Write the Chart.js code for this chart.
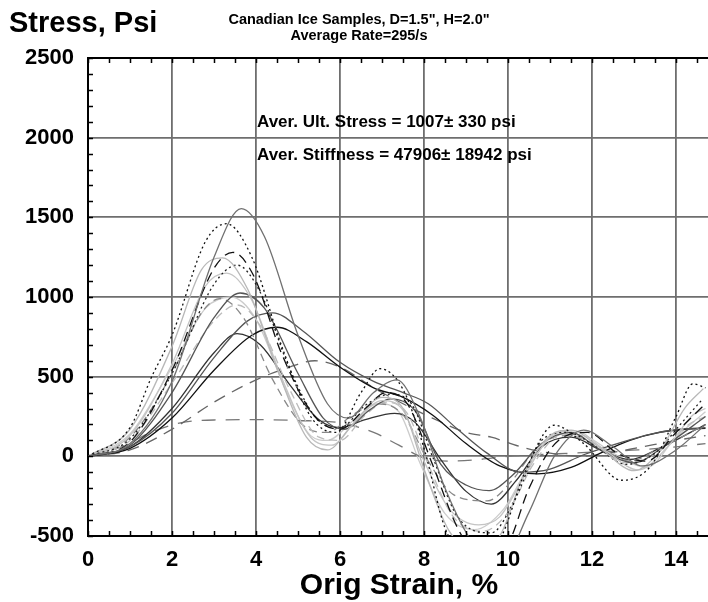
<!DOCTYPE html>
<html>
<head>
<meta charset="utf-8">
<script src="https://cdn.jsdelivr.net/npm/chart.js@4/dist/chart.umd.min.js"></script>
<style>
  html, body { margin: 0; padding: 0; background: #fff; }
  #wrap { width: 708px; height: 602px; }
</style>
</head>
<body>
<div id="wrap"><canvas id="stressChart" width="708" height="602"></canvas></div>
<script>
// axis ticks
const strainTicks = [0, 2, 4, 6, 8, 10, 12, 14];
const stressTicks = [-500, 0, 500, 1000, 1500, 2000, 2500];

// samples: [strain %, stress psi]
const sample01 = [[0,0],[1,80],[2,470],[3,1250],[3.65,1555],[4.2,1380],[5,760],[5.7,330],[6.2,240],[6.8,400],[7.35,480],[7.9,250],[8.5,-200],[9.2,-560],[9.8,-680],[10.5,-350],[11.1,0],[11.8,165],[12.5,60],[13.2,-60],[14,40],[14.7,200]];
const sample02 = [[0,0],[1,180],[1.5,490],[2,760],[2.8,1350],[3.3,1460],[3.9,1250],[4.6,700],[5.3,250],[5.9,150],[6.5,400],[6.95,550],[7.5,420],[8,50],[8.5,-450],[9,-620],[9.8,-520],[10.4,-100],[11.1,195],[11.8,80],[12.7,-150],[13.4,-60],[14,250],[14.4,455],[14.7,430]];
const sample03 = [[0,0],[1,90],[2,540],[3,1180],[3.45,1280],[3.95,1130],[4.6,650],[5.4,250],[6,170],[6.6,300],[7.1,400],[7.6,330],[8.2,-50],[8.8,-450],[9.4,-650],[10,-550],[10.5,-200],[11.2,100],[11.9,150],[12.6,20],[13.3,-30],[14,150],[14.7,330]];
const sample04 = [[0,0],[1,170],[2,690],[2.7,1170],[3.2,1245],[3.8,1050],[4.5,550],[5.2,120],[5.7,40],[6.3,200],[7,370],[7.5,300],[8,-80],[8.6,-470],[9.2,-580],[9.8,-500],[10.4,-100],[11,130],[11.5,165],[12.2,50],[13,-90],[13.6,30],[14.2,300],[14.65,425]];
const sample05 = [[0,0],[1,110],[2,520],[3,1080],[3.55,1200],[4.1,1030],[4.8,550],[5.5,220],[6,180],[6.6,320],[7.2,390],[7.7,330],[8.2,0],[8.8,-380],[9.6,-480],[10.2,-250],[10.8,100],[11.4,150],[12.1,60],[12.8,-50],[13.5,20],[14.1,200],[14.6,350]];
const sample06 = [[0,0],[1,130],[2,580],[2.8,1070],[3.3,1150],[3.9,980],[4.6,500],[5.3,120],[5.8,70],[6.4,230],[7,350],[7.5,290],[8,-30],[8.6,-330],[9.3,-430],[9.8,-380],[10.4,-120],[11,120],[11.6,160],[12.3,40],[13.1,-85],[13.8,60],[14.4,260],[14.7,300]];
const sample07 = [[0,0],[1,70],[2,400],[3,870],[3.62,1025],[4.2,930],[5,520],[5.6,240],[6.1,170],[6.7,290],[7.2,360],[7.8,280],[8.4,-50],[9,-180],[9.55,-215],[10.1,-120],[10.8,80],[11.5,150],[12.2,40],[13,-40],[13.7,60],[14.7,250]];
const sample08 = [[0,0],[1,100],[2,460],[3,850],[3.55,950],[4.1,820],[4.8,420],[5.5,120],[6,100],[6.6,260],[7.1,340],[7.6,270],[8.1,-50],[8.7,-380],[9.4,-470],[10,-350],[10.6,-50],[11.3,140],[12,90],[12.8,-40],[13.6,30],[14.3,200],[14.7,250]];
const sample09 = [[0,0],[1,120],[2,520],[2.7,900],[3.14,990],[3.7,870],[4.4,480],[5.1,200],[5.7,150],[6.3,260],[6.9,330],[7.5,260],[8.1,-30],[8.7,-240],[9.5,-280],[10.1,-150],[10.7,60],[11.4,130],[12.1,70],[12.9,-30],[13.6,50],[14.7,200]];
const sample10 = [[0,0],[1,60],[2,270],[3,620],[3.8,850],[4.4,900],[5.1,790],[6,590],[6.8,470],[7.5,400],[8.1,330],[8.8,170],[9.5,20],[10.3,-100],[11,-80],[11.8,10],[12.6,80],[13.4,140],[14.1,170],[14.7,180]];
const sample11 = [[0,0],[1,50],[2,240],[3,540],[3.9,760],[4.5,810],[5.2,720],[6,560],[6.8,430],[7.5,370],[8.2,260],[9,80],[9.8,-60],[10.7,-110],[11.5,-70],[12.2,20],[12.9,100],[13.6,150],[14.2,170],[14.7,176]];
const sample12 = [[0,0],[1,60],[2,300],[3,650],[3.55,770],[4.1,700],[4.8,450],[5.5,230],[6,180],[6.6,230],[7.3,270],[7.8,210],[8.4,-20],[9,-220],[9.6,-300],[10.2,-150],[10.8,60],[11.5,120],[12.2,40],[12.9,-20],[13.6,50],[14.7,200]];
const sample13 = [[0,0],[1,40],[2,170],[3,340],[4,480],[4.8,560],[5.4,600],[6,560],[6.8,430],[7.5,330],[8.2,240],[9,150],[9.6,120],[10.3,60],[11,20],[11.7,0],[12.4,20],[13.2,60],[14,100],[14.7,130]];
const sample14 = [[0,0],[0.8,60],[1.5,150],[2.2,210],[3,228],[4,230],[5,225],[6,210],[6.8,150],[7.4,70],[8,-10],[8.6,-30],[9.3,-20],[10,0],[10.7,10],[11.5,20],[12.3,30],[13.1,40],[14,60],[14.7,80]];
const sample15 = [[0,0],[1,140],[2,560],[2.8,930],[3.4,1000],[4,860],[4.7,420],[5.3,130],[5.7,100],[6.3,220],[6.9,330],[7.4,280],[7.9,-40],[8.5,-360],[9.2,-460],[9.9,-330],[10.5,-60],[11.2,140],[11.8,130],[12.5,20],[13.3,-70],[14,120],[14.7,280]];

const samples = [sample01, sample02, sample03, sample04, sample05, sample06, sample07, sample08,
                 sample09, sample10, sample11, sample12, sample13, sample14, sample15];
const lineStyles = [
    { color: '#707070', dash: [] },
    { color: '#111111', dash: [2, 3] },
    { color: '#111111', dash: [10, 6] },
    { color: '#b8b8b8', dash: [] },
    { color: '#222222', dash: [2, 3] },
    { color: '#c4c4c4', dash: [] },
    { color: '#555555', dash: [] },
    { color: '#bbbbbb', dash: [8, 5] },
    { color: '#888888', dash: [8, 5] },
    { color: '#555555', dash: [] },
    { color: '#111111', dash: [] },
    { color: '#333333', dash: [] },
    { color: '#666666', dash: [12, 8] },
    { color: '#777777', dash: [14, 10] },
    { color: '#cccccc', dash: [] }
];

const FONT = '"Liberation Sans", Arial, sans-serif';

// header text, annotations, inner minor ticks, top frame
const decorPlugin = {
    id: 'decor',
    afterDraw(chart) {
        const ctx = chart.ctx;
        const xs = chart.scales.x, ys = chart.scales.y;
        const area = chart.chartArea;
        ctx.save();
        ctx.strokeStyle = '#000';
        ctx.lineWidth = 1.5;
        ctx.beginPath();
        for (let v = -500; v <= 2500; v += 100) {
            const py = Math.round(ys.getPixelForValue(v)) + 0.5;
            ctx.moveTo(area.left, py);
            ctx.lineTo(area.left + 5, py);
        }
        for (let v = 0; v <= 14.5; v += 0.5) {
            const px = Math.round(xs.getPixelForValue(v)) + 0.5;
            ctx.moveTo(px, area.top);
            ctx.lineTo(px, area.top + 5);
            ctx.moveTo(px, area.bottom);
            ctx.lineTo(px, area.bottom - 5);
        }
        ctx.stroke();
        ctx.lineWidth = 2;
        ctx.beginPath();
        ctx.moveTo(area.left - 1, area.top);
        ctx.lineTo(area.right, area.top);
        ctx.stroke();

        ctx.fillStyle = '#000';
        ctx.textBaseline = 'alphabetic';
        ctx.textAlign = 'left';
        ctx.font = 'bold 29px ' + FONT;
        ctx.fillText('Stress, Psi', 9, 32);

        ctx.textAlign = 'center';
        ctx.font = 'bold 14.5px ' + FONT;
        ctx.fillText('Canadian Ice Samples, D=1.5", H=2.0"', 359, 24);
        ctx.fillText('Average Rate=295/s', 359, 40);

        ctx.font = 'bold 30px ' + FONT;
        ctx.fillText('Orig Strain, %', 399, 594);

        ctx.textAlign = 'left';
        ctx.font = 'bold 17px ' + FONT;
        ctx.fillText('Aver. Ult. Stress = 1007\u00b1 330 psi', 257, 127);
        ctx.fillText('Aver. Stiffness = 47906\u00b1 18942 psi', 257, 160);
        ctx.restore();
    }
};

new Chart(document.getElementById('stressChart').getContext('2d'), {
    type: 'line',
    data: {
        datasets: samples.map(function (s, i) {
            return {
                data: s.map(function (p) { return { x: p[0], y: p[1] }; }),
                borderColor: lineStyles[i].color,
                borderDash: lineStyles[i].dash,
                borderWidth: 1.3,
                pointRadius: 0,
                fill: false,
                cubicInterpolationMode: 'monotone'
            };
        })
    },
    options: {
        responsive: false,
        animation: false,
        layout: { padding: { top: 58, left: 0, right: 0, bottom: 0 } },
        plugins: { legend: { display: false }, tooltip: { enabled: false } },
        scales: {
            x: {
                type: 'linear',
                min: 0,
                max: 14.76,
                afterFit: function (s) { s.height = 66; },
                afterBuildTicks: function (s) { s.ticks = strainTicks.map(function (v) { return { value: v }; }); },
                grid: { color: '#6e6e6e', lineWidth: 1.8, drawTicks: false },
                border: { display: true, color: '#000', width: 2 },
                ticks: {
                    color: '#000', padding: 11, maxRotation: 0,
                    font: { family: FONT, size: 22, weight: 'bold' },
                    callback: function (v) { return String(v); }
                }
            },
            y: {
                type: 'linear',
                min: -500,
                max: 2500,
                afterFit: function (s) { s.width = 88; },
                afterBuildTicks: function (s) { s.ticks = stressTicks.map(function (v) { return { value: v }; }); },
                grid: { color: '#6e6e6e', lineWidth: 1.8, drawTicks: false },
                border: { display: true, color: '#000', width: 2 },
                ticks: {
                    color: '#000', padding: 14,
                    font: { family: FONT, size: 22, weight: 'bold' },
                    callback: function (v) { return String(v); }
                }
            }
        }
    },
    plugins: [decorPlugin]
});
</script>
</body>
</html>
